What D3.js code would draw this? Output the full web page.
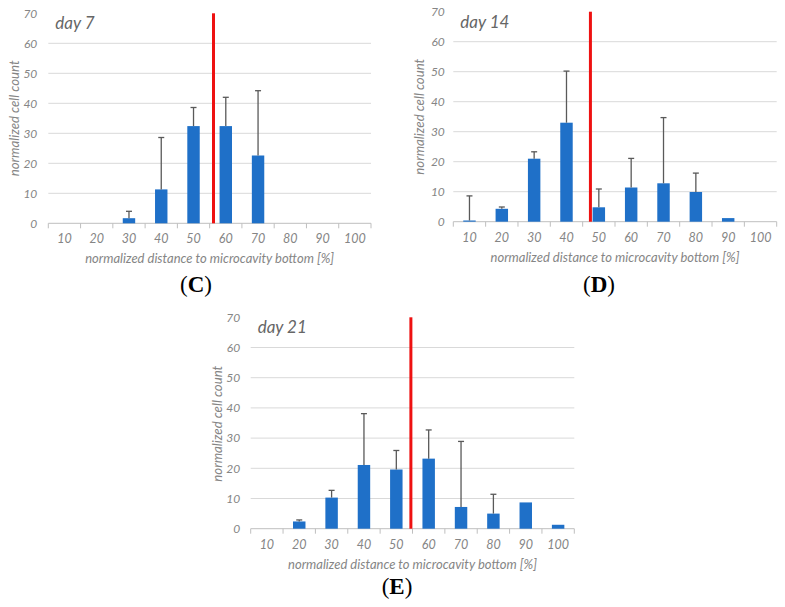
<!DOCTYPE html>
<html>
<head>
<meta charset="utf-8">
<script src="https://cdn.jsdelivr.net/npm/d3@7"></script>
<style>
  html, body { margin: 0; padding: 0; background: #fff; }
  svg { display: block; }
</style>
</head>
<body>
<svg id="chart" width="785" height="607"></svg>
<script>
// ---- data ----
const categories = [10, 20, 30, 40, 50, 60, 70, 80, 90, 100];
const yTicks = [0, 10, 20, 30, 40, 50, 60, 70];

const day7Values   = [0, 0, 1.7, 11.3, 32.4, 32.4, 22.6, 0, 0, 0];
const day7ErrTop   = [null, null, 4.0, 28.6, 38.6, 42.0, 44.2, null, null, null];
const day7Split    = 56.2;

const day14Values  = [0.4, 4.3, 21.0, 33.0, 4.8, 11.4, 12.8, 9.9, 1.2, 0];
const day14ErrTop  = [8.6, 4.9, 23.3, 50.2, 10.9, 21.1, 34.7, 16.2, null, null];
const day14Split   = 47.4;

const day21Values  = [0, 2.4, 10.3, 21.1, 19.6, 23.2, 7.2, 5.0, 8.7, 1.3];
const day21ErrTop  = [null, 2.9, 12.7, 38.1, 25.9, 32.7, 28.9, 11.4, null, null];
const day21Split   = 54.5;

const panelTitles = ["day 7", "day 14", "day 21"];
const panelLetters = ["C", "D", "E"];
const xTitle = "normalized distance to microcavity bottom [%]";
const yTitle = "normalized cell count";

// ---- layout ----
const panels = [
  { title: panelTitles[0], letter: panelLetters[0], values: day7Values, err: day7ErrTop, split: day7Split,
    left: 48.3, right: 371, y0: 223.3, y70: 13.3, letterX: 196, letterY: 292, ytOff: 11 },
  { title: panelTitles[1], letter: panelLetters[1], values: day14Values, err: day14ErrTop, split: day14Split,
    left: 453.3, right: 776.7, y0: 221.7, y70: 11.7, letterX: 599, letterY: 292, ytOff: 8.5 },
  { title: panelTitles[2], letter: panelLetters[2], values: day21Values, err: day21ErrTop, split: day21Split,
    left: 250.7, right: 574.3, y0: 528.7, y70: 317.3, letterX: 397, letterY: 594, ytOff: 10.5 }
];

const FONT = "Lato, 'Open Sans', sans-serif";
const TXT = "#858585";
const svg = d3.select("#chart");

panels.forEach(p => {
  const g = svg.append("g");
  const x = d3.scaleBand().domain(categories).range([p.left, p.right])
    .paddingInner(0.615).paddingOuter(0.3075);
  const xLin = d3.scaleLinear().domain([5, 105]).range([p.left, p.right]);
  const y = d3.scaleLinear().domain([0, 70]).range([p.y0, p.y70]);

  // gridlines
  g.append("g").selectAll("line").data(yTicks.filter(t => t > 0 && t < 70)).join("line")
    .attr("x1", p.left).attr("x2", p.right)
    .attr("y1", d => y(d)).attr("y2", d => y(d))
    .attr("stroke", "#d9d9d9").attr("stroke-width", 1);

  // y tick labels
  g.append("g").selectAll("text").data(yTicks).join("text")
    .attr("x", p.left - p.ytOff).attr("y", d => y(d)).attr("dy", "0.35em")
    .attr("text-anchor", "end")
    .attr("font-family", FONT).attr("font-style", "italic").attr("font-size", 12)
    .attr("fill", TXT).text(d => d);

  // x axis line and boundary ticks
  g.append("line").attr("x1", p.left).attr("x2", p.right)
    .attr("y1", p.y0).attr("y2", p.y0).attr("stroke", "#bfbfbf").attr("stroke-width", 1);
  const bounds = d3.range(categories.length + 1).map(i => 5 + i * 10);
  g.append("g").selectAll("line").data(bounds).join("line")
    .attr("x1", d => xLin(d)).attr("x2", d => xLin(d))
    .attr("y1", p.y0).attr("y2", p.y0 + 5)
    .attr("stroke", "#bfbfbf").attr("stroke-width", 1);

  // x tick labels
  g.append("g").selectAll("text").data(categories).join("text")
    .attr("x", d => x(d) + x.bandwidth() / 2).attr("y", p.y0 + 20)
    .attr("text-anchor", "middle")
    .attr("font-family", FONT).attr("font-style", "italic").attr("font-size", 12.5)
    .attr("fill", TXT).text(d => d);

  // bars
  g.append("g").selectAll("rect").data(categories.map((c, i) => ({ c, v: p.values[i] })).filter(d => d.v > 0))
    .join("rect")
    .attr("x", d => x(d.c)).attr("width", x.bandwidth())
    .attr("y", d => y(d.v)).attr("height", d => y(0) - y(d.v))
    .attr("fill", "#1f70c8");

  // error bars (upper only)
  const errs = categories.map((c, i) => ({ c, v: p.values[i], e: p.err[i] })).filter(d => d.e != null);
  const eg = g.append("g").attr("stroke", "#595959").attr("stroke-width", 1.3);
  eg.selectAll("line.v").data(errs).join("line").attr("class", "v")
    .attr("x1", d => x(d.c) + x.bandwidth() / 2).attr("x2", d => x(d.c) + x.bandwidth() / 2)
    .attr("y1", d => y(d.v)).attr("y2", d => y(d.e));
  eg.selectAll("line.c").data(errs).join("line").attr("class", "c")
    .attr("x1", d => x(d.c) + x.bandwidth() / 2 - 3).attr("x2", d => x(d.c) + x.bandwidth() / 2 + 3)
    .attr("y1", d => y(d.e)).attr("y2", d => y(d.e));

  // red split line
  g.append("line").attr("x1", xLin(p.split)).attr("x2", xLin(p.split))
    .attr("y1", y(0)).attr("y2", y(70))
    .attr("stroke", "#ee1111").attr("stroke-width", 3);

  // panel title
  g.append("text").attr("x", p.left + 7).attr("y", y(70) + 16)
    .attr("font-family", FONT).attr("font-style", "italic").attr("font-size", 17)
    .attr("fill", "#666666").text(p.title);

  // x title
  g.append("text").attr("x", (p.left + p.right) / 2).attr("y", p.y0 + 40)
    .attr("text-anchor", "middle")
    .attr("font-family", FONT).attr("font-style", "italic").attr("font-size", 13)
    .attr("textLength", 249).attr("lengthAdjust", "spacingAndGlyphs")
    .attr("fill", TXT).text(xTitle);

  // y title
  g.append("text").attr("transform", `translate(${p.left - 29},${p.y0 - 105}) rotate(-90)`)
    .attr("text-anchor", "middle")
    .attr("font-family", FONT).attr("font-style", "italic").attr("font-size", 13)
    .attr("textLength", 116).attr("lengthAdjust", "spacingAndGlyphs")
    .attr("fill", TXT).text(yTitle);

  // panel letter
  const lt = g.append("text").attr("x", p.letterX).attr("y", p.letterY)
    .attr("text-anchor", "middle")
    .attr("font-family", "'Liberation Serif', 'Times New Roman', serif").attr("font-size", 23)
    .attr("fill", "#000");
  lt.append("tspan").text("(");
  lt.append("tspan").attr("font-weight", "bold").text(p.letter);
  lt.append("tspan").text(")");
});
</script>
</body>
</html>
